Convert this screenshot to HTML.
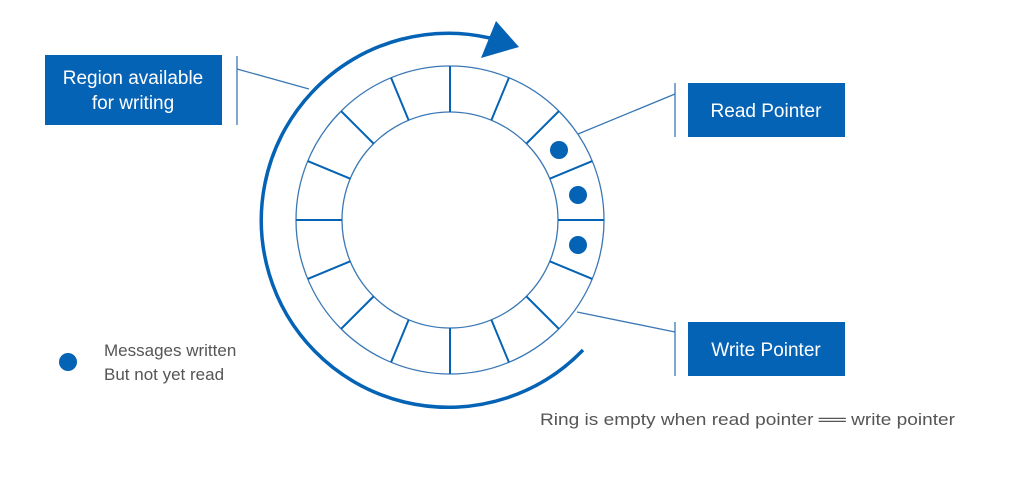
<!DOCTYPE html>
<html><head><meta charset="utf-8"><style>
body{margin:0;background:#fff;width:1024px;height:500px;overflow:hidden;font-family:"Liberation Sans",sans-serif}
svg{position:absolute;left:0;top:0}
</style></head><body>
<svg width="1024" height="500" viewBox="0 0 1024 500">
<g fill="#0563b5">
<rect x="45" y="55" width="177" height="70"/>
<rect x="688" y="83" width="157" height="54"/>
<rect x="688" y="322" width="157" height="54"/>
</g>
<g font-size="19" fill="#fff" text-anchor="middle">
<text x="133" y="84">Region available</text>
<text x="133" y="109">for writing</text>
<text x="766" y="117">Read Pointer</text>
<text x="766" y="356">Write Pointer</text>
</g>
<g stroke="#3a78b5" stroke-width="1.3" fill="none">
<line x1="237" y1="56" x2="237" y2="125"/>
<line x1="237" y1="69" x2="309" y2="89"/>
<line x1="675" y1="83" x2="675" y2="137"/>
<line x1="675" y1="94" x2="578" y2="134"/>
<line x1="675" y1="322" x2="675" y2="376"/>
<line x1="577" y1="312" x2="675" y2="332"/>
<circle cx="450" cy="220" r="154"/>
<circle cx="450" cy="220" r="108"/>
</g>
<g stroke="#0563b5" stroke-width="2">
<line x1="558" y1="220" x2="604" y2="220" transform="rotate(0 450 220)"/>
<line x1="558" y1="220" x2="604" y2="220" transform="rotate(22.5 450 220)"/>
<line x1="558" y1="220" x2="604" y2="220" transform="rotate(45 450 220)"/>
<line x1="558" y1="220" x2="604" y2="220" transform="rotate(67.5 450 220)"/>
<line x1="558" y1="220" x2="604" y2="220" transform="rotate(90 450 220)"/>
<line x1="558" y1="220" x2="604" y2="220" transform="rotate(112.5 450 220)"/>
<line x1="558" y1="220" x2="604" y2="220" transform="rotate(135 450 220)"/>
<line x1="558" y1="220" x2="604" y2="220" transform="rotate(157.5 450 220)"/>
<line x1="558" y1="220" x2="604" y2="220" transform="rotate(180 450 220)"/>
<line x1="558" y1="220" x2="604" y2="220" transform="rotate(202.5 450 220)"/>
<line x1="558" y1="220" x2="604" y2="220" transform="rotate(225 450 220)"/>
<line x1="558" y1="220" x2="604" y2="220" transform="rotate(247.5 450 220)"/>
<line x1="558" y1="220" x2="604" y2="220" transform="rotate(270 450 220)"/>
<line x1="558" y1="220" x2="604" y2="220" transform="rotate(292.5 450 220)"/>
<line x1="558" y1="220" x2="604" y2="220" transform="rotate(315 450 220)"/>
<line x1="558" y1="220" x2="604" y2="220" transform="rotate(337.5 450 220)"/>
</g>
<g fill="#0563b5">
<circle cx="559" cy="150" r="9"/>
<circle cx="578" cy="195" r="9"/>
<circle cx="578" cy="245" r="9"/>
<circle cx="68" cy="362" r="9"/>
<polygon points="496,21 519,47 481,58"/>
</g>
<path d="M583 350 A187 187 0 1 1 490 38" stroke="#0563b5" stroke-width="3.5" fill="none"/>
<g font-size="17" fill="#555">
<text x="104" y="356">Messages written</text>
<text x="104" y="380">But not yet read</text>
<text x="540" y="425" font-size="17" textLength="415" lengthAdjust="spacingAndGlyphs">Ring is empty when read pointer ══ write pointer</text>
</g>
</svg>
</body></html>
